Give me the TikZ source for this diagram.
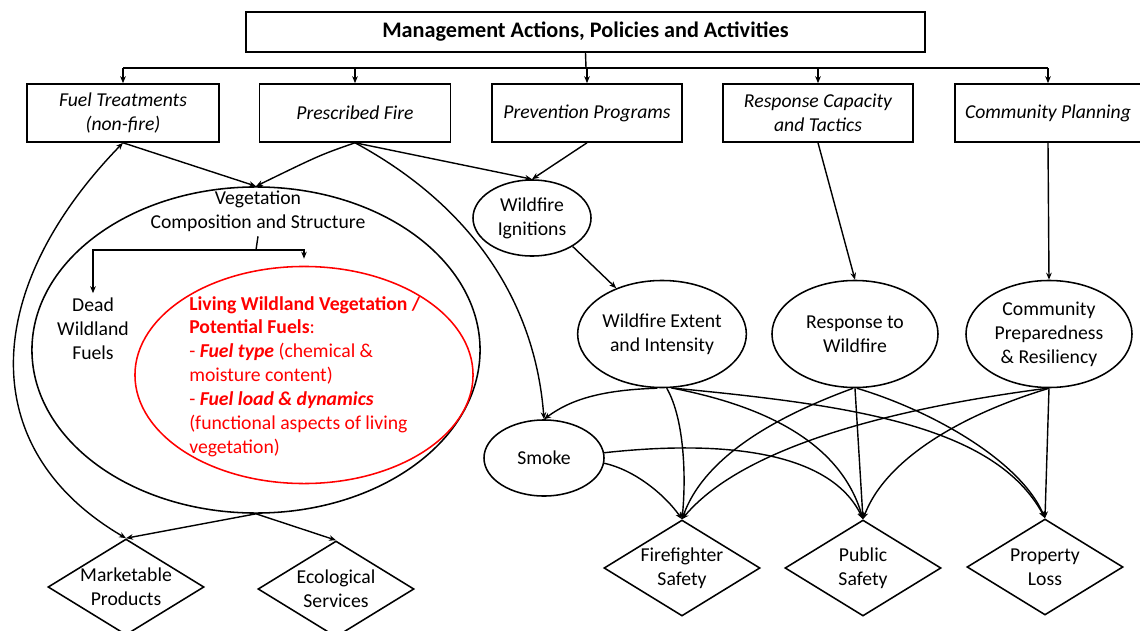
\documentclass[tikz,border=0pt]{standalone}
\usepackage{fontspec}
\setmainfont{Carlito}
\usetikzlibrary{shapes.geometric,arrows.meta}

\begin{document}
\begin{tikzpicture}[x=0.025cm, y=-0.025cm, >={Stealth[length=5pt,width=4pt]},
    txt/.style={font=\fontsize{14}{17}\selectfont, align=center},
    box/.style={draw, line width=1.1pt, minimum height=1.45cm, inner sep=2pt, align=center, font=\fontsize{14}{17}\selectfont\itshape},
    oval/.style={draw, ellipse, line width=1.1pt, inner sep=0pt, txt},
    outcome/.style={draw, diamond, line width=1.1pt, inner sep=0pt, shape aspect=1.6, minimum width=3.9cm, minimum height=2.4cm, txt},
    link/.style={->, line width=1pt}]
    \useasboundingbox (0,0) rectangle (1140,631);

    % management level
    \node (mgmt) at (585.5,32) [draw, line width=1.1pt, minimum width=16.975cm, minimum height=1cm, font=\fontsize{15.8}{18}\selectfont\bfseries] {Management Actions, Policies and Activities};
    \node (fuel) at (123,113) [box, minimum width=4.8cm] {Fuel Treatments\\(non-fire)};
    \node (pres) at (355,113) [box, minimum width=4.775cm] {Prescribed Fire};
    \node (prev) at (587,113) [box, minimum width=4.75cm] {Prevention Programs};
    \node (cap) at (818,113) [box, minimum width=4.75cm] {Response Capacity\\and Tactics};
    \node (plan) at (1048,113) [box, minimum width=4.65cm] {Community Planning};

    \coordinate (bus) at (586,68);
    \draw [line width=1pt] (mgmt.south) -- (bus);
    \draw [line width=1pt] (fuel.north |- bus) -- (plan.north |- bus);
    \foreach \b in {fuel,pres,prev,cap,plan}
        \draw [link] (\b.north |- bus) -- (\b.north);

    % vegetation
    \node (veg) at (256,350) [draw, ellipse, line width=1.1pt, minimum width=11.2cm, minimum height=8.15cm] {};
    \node (vegtxt) at (258,211) [txt] {Vegetation\\Composition and Structure};
    \node (dead) at (93,329) [txt] {Dead\\Wildland\\Fuels};
    \node (live) at (304,375) [draw=red, ellipse, line width=1.1pt, minimum width=8.45cm, minimum height=5.425cm] {};
    \node (livetxt) at (189,376.5) [anchor=west, align=left, inner sep=0pt, text=red, font=\fontsize{14}{17}\selectfont] {\textbf{Living Wildland Vegetation /}\\\textbf{Potential Fuels}:\\- \textbf{\textit{Fuel type}} (chemical \&\\moisture content)\\- \textbf{\textit{Fuel load \& dynamics}}\\(functional aspects of living\\vegetation)};
    \coordinate (split) at (256,250);
    \draw [line width=1pt] (vegtxt.south) -- (split);
    \draw [link] (split) -| (dead.north);
    \draw [link] (split) -| ([yshift=5pt]live.north);

    % fire and response
    \node (ign) at (532,218) [oval, minimum width=2.95cm, minimum height=1.9cm] {Wildfire\\Ignitions};
    \node (ext) at (662,334) [oval, minimum width=4.15cm, minimum height=2.675cm] {Wildfire Extent\\and Intensity};
    \node (resp) at (855,334) [oval, minimum width=4.15cm, minimum height=2.675cm] {Response to\\Wildfire};
    \node (prep) at (1049,334) [oval, minimum width=4.15cm, minimum height=2.675cm] {Community\\Preparedness\\\& Resiliency};
    \node (smoke) at (544,458) [oval, minimum width=3cm, minimum height=1.9cm] {Smoke};

    % outcomes
    \node (market) at (126,587) [outcome] {Marketable\\Products};
    \node (eco) at (336,589) [outcome] {Ecological\\Services};
    \node (fire) at (682,568) [outcome] {Firefighter\\Safety};
    \node (pub) at (863,568) [outcome] {Public\\Safety};
    \node (loss) at (1045,567) [outcome] {Property\\Loss};

    \draw [link] (fuel.south) -- (veg.north);
    \draw [link] (pres.south) .. controls (320,155) .. (veg.north);
    \draw [link] (pres.south) -- (ign.north);
    \draw [link] (pres.south) .. controls (470,205) and (535,300) .. (smoke.north);
    \draw [link] (prev.south) -- (ign.north);
    \draw [link] (ign.-35) -- (ext.135);
    \draw [link] (cap.south) -- (resp.north);
    \draw [link] (plan.south) -- (prep.north);
    \draw [<->, line width=1pt] (fuel.south) .. controls (-20,290) and (-25,450) .. (market.north);
    \draw [link] (veg.south) -- (market.north);
    \draw [link] (veg.south) -- (eco.north);

    \draw [link] (ext.-95) .. controls (600,390) and (570,400) .. (smoke.north);
    \draw [link] (ext.-85) .. controls (685,420) and (686,480) .. (fire.north);
    \draw [link] (ext.-80) .. controls (760,405) and (840,440) .. (pub.north);
    \draw [link] (ext.-80) .. controls (850,405) and (995,425) .. (loss.north);
    \draw [link] (resp.-92) .. controls (780,415) and (705,455) .. (fire.north);
    \draw [link] (resp.south) -- (pub.north);
    \draw [link] (resp.-88) .. controls (930,410) and (1020,460) .. (loss.north);
    \draw [link] (prep.-92) .. controls (880,410) and (740,450) .. (fire.north);
    \draw [link] (prep.-90) .. controls (960,415) and (885,460) .. (pub.north);
    \draw [link] (prep.south) -- (loss.north);
    \draw [link] (smoke.-5) .. controls (635,470) and (665,495) .. (fire.north);
    \draw [link] (smoke.5) .. controls (720,440) and (830,450) .. (pub.north);
\end{tikzpicture}
\end{document}
